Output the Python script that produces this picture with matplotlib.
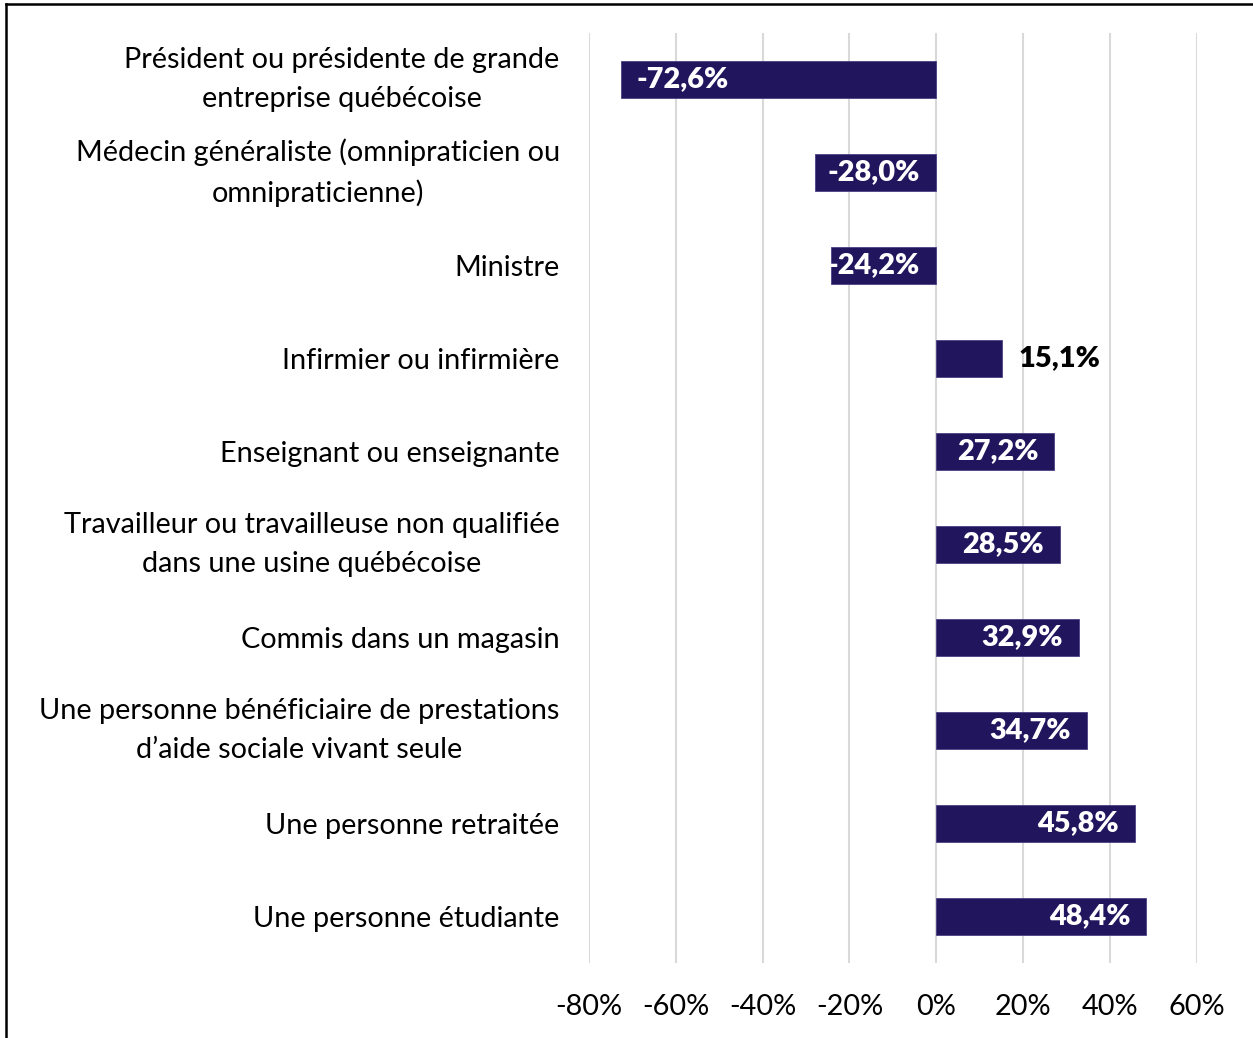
import matplotlib.pyplot as plt
from matplotlib.lines import Line2D

plt.rcParams["font.family"] = ["Lato", "DejaVu Sans"]

categories = [
    "Président ou présidente de grande\nentreprise québécoise",
    "Médecin généraliste (omnipraticien ou\nomnipraticienne)",
    "Ministre",
    "Infirmier ou infirmière",
    "Enseignant ou enseignante",
    "Travailleur ou travailleuse non qualifiée\ndans une usine québécoise",
    "Commis dans un magasin",
    "Une personne bénéficiaire de prestations\nd’aide sociale vivant seule",
    "Une personne retraitée",
    "Une personne étudiante",
]
values = [-72.6, -28.0, -24.2, 15.1, 27.2, 28.5, 32.9, 34.7, 45.8, 48.4]
xticks = [-80, -60, -40, -20, 0, 20, 40, 60]

bar_color = "#21165e"
fs = 20.8


def fmt(v):
    return f"{v:.1f}%".replace(".", ",")


fig = plt.figure(figsize=(12.53, 10.38), dpi=100)
ax = fig.add_axes([0.470, 0.0723, 0.4852, 0.8960])

y = list(range(len(values)))
ax.barh(y, values, height=0.4, color=bar_color, edgecolor="#4a4084", linewidth=0.6, zorder=3)

ax.set_xlim(-80, 60)
ax.set_ylim(len(values) - 0.5, -0.5)
ax.set_xticks(xticks)
ax.set_xticklabels([f"{t}%" for t in xticks], fontsize=fs)
ax.tick_params(axis="x", length=0, pad=22)
ax.set_yticks(y)
ax.set_yticklabels(categories, fontsize=fs, multialignment="center", linespacing=1.6)
ax.tick_params(axis="y", length=0, pad=21)
for lab in ax.get_yticklabels():
    if "\n" in lab.get_text():
        lab.set_va("center")
ax.grid(axis="x", color="#d9d9d9", linewidth=1.5, zorder=0)
for s in ax.spines.values():
    s.set_visible(False)

# data labels
for i, v in enumerate(values):
    txt = fmt(v)
    if v < 0:
        if v < -30:
            ax.text(v + 3.6, i, txt, ha="left", va="center", color="white",
                    fontsize=fs, fontweight="heavy", zorder=4)
        else:
            ax.text(-3.9, i, txt, ha="right", va="center", color="white",
                    fontsize=fs, fontweight="heavy", zorder=4)
    elif v < 20:
        ax.text(v + 3.9, i, txt, ha="left", va="center", color="black",
                fontsize=fs, fontweight="heavy", zorder=4)
    else:
        ax.text(v - 3.7, i, txt, ha="right", va="center", color="white",
                fontsize=fs, fontweight="heavy", zorder=4)

# border around the chart (only top and left visible)
fig.add_artist(Line2D([6 / 1253, 1], [1 - 4 / 1038, 1 - 4 / 1038], color="black", linewidth=1.8))
fig.add_artist(Line2D([6 / 1253, 6 / 1253], [0, 1 - 4 / 1038], color="black", linewidth=1.8))

fig.savefig("out.png", dpi=100)
